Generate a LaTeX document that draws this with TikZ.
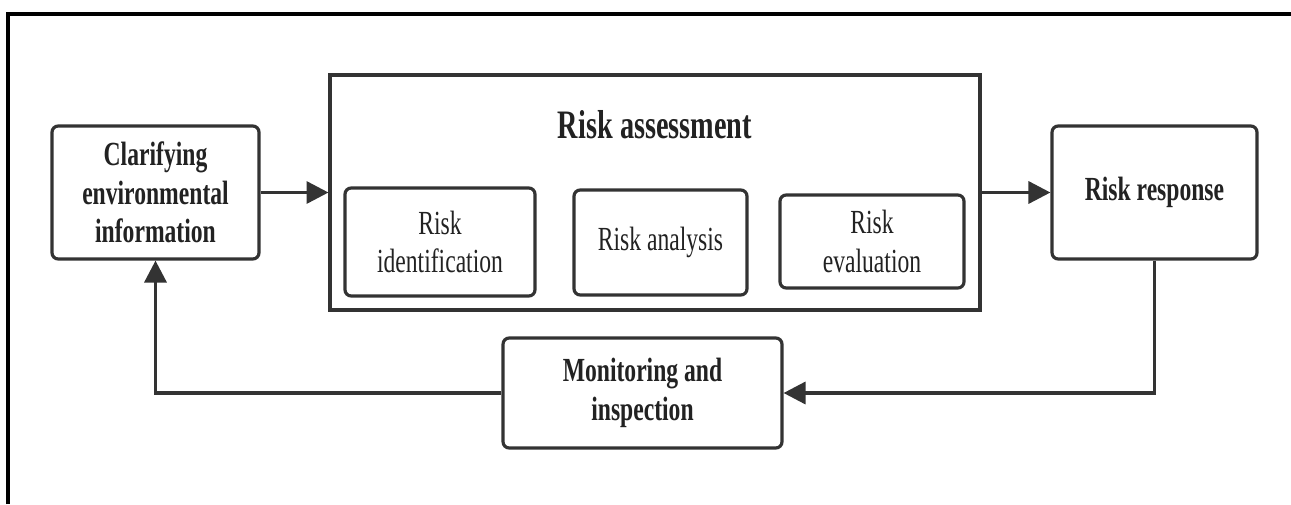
\documentclass[tikz,border=0pt]{standalone}
\usepackage{fontspec}
\setmainfont{Liberation Serif}[FakeStretch=0.7]
\usetikzlibrary{arrows.meta}
\definecolor{boxline}{HTML}{333333}
\definecolor{txt}{HTML}{222222}
\tikzset{
  boxstyle/.style={draw=boxline, line width=1.8pt, rounded corners=3.5pt, fill=white,
    align=center, text=txt, inner sep=0pt,
    font=\fontsize{19.2}{22}\selectfont},
  boldbox/.style={boxstyle, font=\bfseries\fontsize{19.2}{22}\selectfont},
  bigbox/.style={draw=boxline, line width=1.8pt, inner sep=0pt},
  arr/.style={draw=boxline, line width=2pt, -{Triangle[length=12.5pt,width=12.5pt]}},
  frameline/.style={draw=black, line width=2.3pt}
}
\begin{document}
\begin{tikzpicture}[x=0.02cm,y=-0.02cm]
\useasboundingbox (0,0) rectangle (1291,504);
% frame
\coordinate (ftl) at (8,14);
\coordinate (ftr) at (1291,14);
\coordinate (fbl) at (8,504);
\draw[frameline] (fbl) -- (ftl) -- (ftr);
% boxes
\node[boldbox, minimum width=4.14cm, minimum height=2.66cm] (clar) at (155.5,192.5) {Clarifying\\environmental\\information};
\node[bigbox, minimum width=13cm, minimum height=4.7cm] (assess) at (655,192.5) {};
\node[anchor=base, text=txt, font=\bfseries\fontsize{23}{26}\selectfont] (title) at (655,138) {Risk assessment};
\node[boxstyle, minimum width=3.8cm, minimum height=2.16cm] (ident) at (440,242) {Risk\\identification};
\node[boxstyle, minimum width=3.46cm, minimum height=2.1cm] (anal) at (660.5,242.5) {Risk analysis};
\node[boxstyle, minimum width=3.68cm, minimum height=1.86cm] (evalu) at (872,241.5) {Risk\\evaluation};
\node[boldbox, minimum width=4.1cm, minimum height=2.66cm] (resp) at (1154.5,192.5) {Risk response};
\node[boldbox, minimum width=5.58cm, minimum height=2.2cm] (mon) at (642.5,393) {Monitoring and\\inspection};
% connectors
\draw[arr] (clar.east) -- (assess.west);
\draw[arr] (assess.east) -- (resp.west);
\draw[arr] (resp.south) |- (mon.east);
\draw[arr] (mon.west) -| (clar.south);
\end{tikzpicture}
\end{document}
